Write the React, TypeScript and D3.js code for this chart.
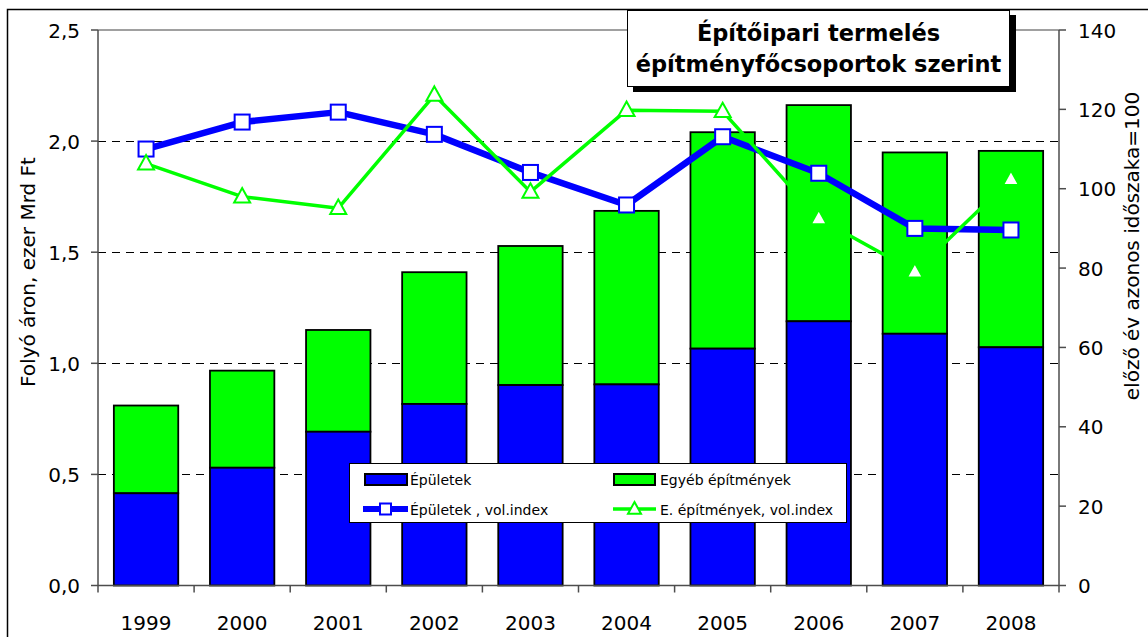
import React from "react";
import * as d3 from "d3";

const years = ["1999", "2000", "2001", "2002", "2003", "2004", "2005", "2006", "2007", "2008"];
const epuletek = [0.415, 0.53, 0.692, 0.817, 0.902, 0.905, 1.066, 1.189, 1.133, 1.072];
const osszesen = [0.81, 0.967, 1.15, 1.41, 1.528, 1.686, 2.04, 2.162, 1.949, 1.956];
const epuletekIndex = [110.0, 116.8, 119.3, 113.7, 104.1, 95.9, 113.1, 103.9, 90.0, 89.6];
const egyebIndex = [106.3, 98.0, 95.1, 123.6, 99.2, 119.8, 119.5, 92.5, 79.1, 102.4];
const leftTicks = [0, 0.5, 1.0, 1.5, 2.0, 2.5];
const rightTicks = [0, 20, 40, 60, 80, 100, 120, 140];
const gridTicks = [0.5, 1.0, 1.5, 2.0];
const titleLines = ["Építőipari termelés", "építményfőcsoportok szerint"];
const legendLabels = ["Épületek", "Egyéb építmények", "Épületek , vol.index", "E. építmények, vol.index"];

const BLUE = "#0000FF";
const GREEN = "#00FF00";
const FONT = "'DejaVu Sans', Verdana, sans-serif";

const L = 98, R = 1059, T = 30, B = 585.5;

export default function App() {
  const x = d3.scaleBand<string>().domain(years).range([L, R]).paddingInner(0.33).paddingOuter(0.165);
  const y = d3.scaleLinear().domain([0, 2.5]).range([B, T]);
  const y2 = d3.scaleLinear().domain([0, 140]).range([B, T]);
  const cx = (yr: string) => (x(yr) as number) + x.bandwidth() / 2;
  const lineBlue = d3.line<number>().x((_, i) => cx(years[i])).y((v) => y2(v));
  const step = x.step();
  const boundaries = d3.range(years.length + 1).map((i) => L + i * step);

  const tri = (px: number, py: number, w: number) => {
    const h = w * 0.9;
    return `M${px},${py - h * 0.6}L${px + w / 2},${py + h * 0.4}L${px - w / 2},${py + h * 0.4}Z`;
  };

  return (
    <svg width={1148} height={637} style={{ position: "absolute", left: 0, top: 0, background: "#fff" }} fontFamily={FONT}>
      <rect x={0} y={0} width={1148} height={637} fill="#fff" />
      <rect x={7.5} y={9.5} width={1160} height={660} fill="none" stroke="#000" strokeWidth={1.5} />

      {/* gridlines */}
      {gridTicks.map((t) => (
        <line key={t} x1={L} x2={R} y1={Math.round(y(t)) + 0.5} y2={Math.round(y(t)) + 0.5} stroke="#000" strokeWidth={1} strokeDasharray="8,6" />
      ))}
      <line x1={L} x2={R} y1={T} y2={T} stroke="#808080" strokeWidth={1.5} />

      {/* bars */}
      {years.map((yr, i) => (
        <g key={yr}>
          <rect x={x(yr)} y={y(osszesen[i])} width={x.bandwidth()} height={y(epuletek[i]) - y(osszesen[i])} fill={GREEN} stroke="#000" strokeWidth={1.8} />
          <rect x={x(yr)} y={y(epuletek[i])} width={x.bandwidth()} height={B - y(epuletek[i])} fill={BLUE} stroke="#000" strokeWidth={1.8} />
        </g>
      ))}

      {/* axes */}
      <line x1={L} x2={L} y1={T} y2={B} stroke="#4d4d4d" strokeWidth={1.5} />
      <line x1={R} x2={R} y1={T} y2={B} stroke="#4d4d4d" strokeWidth={1.5} />
      <line x1={L} x2={R} y1={B} y2={B} stroke="#4d4d4d" strokeWidth={1.5} />
      {leftTicks.map((t) => (
        <g key={t}>
          <line x1={L - 7} x2={L} y1={y(t)} y2={y(t)} stroke="#4d4d4d" strokeWidth={1.5} />
          <text x={80} y={y(t) + 7.5} fontSize={20} textAnchor="end" fill="#000">
            {d3.format(".1f")(t).replace(".", ",")}
          </text>
        </g>
      ))}
      {rightTicks.map((t) => (
        <g key={t}>
          <line x1={R} x2={R + 7} y1={y2(t)} y2={y2(t)} stroke="#4d4d4d" strokeWidth={1.5} />
          <text x={1078} y={y2(t) + 7.5} fontSize={20} textAnchor="start" fill="#000">
            {t}
          </text>
        </g>
      ))}
      {boundaries.map((bx, i) => (
        <line key={i} x1={bx} x2={bx} y1={B} y2={B + 7} stroke="#4d4d4d" strokeWidth={1.5} />
      ))}
      {years.map((yr) => (
        <text key={yr} x={cx(yr)} y={630} fontSize={20} textAnchor="middle" fill="#000">
          {yr}
        </text>
      ))}
      <text transform="translate(35,272) rotate(-90)" fontSize={20} textAnchor="middle" fill="#000">
        Folyó áron, ezer Mrd Ft
      </text>
      <text transform="translate(1139,246) rotate(-90)" fontSize={20} textAnchor="middle" fill="#000">
        előző év azonos időszaka=100
      </text>

      {/* lines */}
      <path d={lineBlue(epuletekIndex) || ""} fill="none" stroke={BLUE} strokeWidth={6.5} strokeLinejoin="round" />
      {epuletekIndex.map((v, i) => (
        <rect key={i} x={cx(years[i]) - 7.5} y={y2(v) - 7.5} width={15} height={15} fill="#fff" stroke={BLUE} strokeWidth={2} />
      ))}
      <path d={lineBlue(egyebIndex) || ""} fill="none" stroke={GREEN} strokeWidth={3.5} strokeLinejoin="round" />
      {egyebIndex.map((v, i) => (
        <path key={i} d={tri(cx(years[i]), y2(v), 16)} fill="#fff" stroke={GREEN} strokeWidth={2} />
      ))}

      {/* legend */}
      <rect x={349.5} y={463.5} width={497} height={59} fill="#fff" stroke="#000" strokeWidth={1} />
      <rect x={365} y={474} width={42} height={11} fill={BLUE} stroke="#000" strokeWidth={2} />
      <text x={410} y={485} fontSize={14} fill="#000">{legendLabels[0]}</text>
      <rect x={614} y={474} width={41} height={11} fill={GREEN} stroke="#000" strokeWidth={2} />
      <text x={660} y={485} fontSize={14} fill="#000">{legendLabels[1]}</text>
      <line x1={363} x2={408} y1={509} y2={509} stroke={BLUE} strokeWidth={6} />
      <rect x={380} y={503.5} width={11} height={11} fill="#fff" stroke={BLUE} strokeWidth={2} />
      <text x={410} y={515} fontSize={14} fill="#000">{legendLabels[2]}</text>
      <line x1={613} x2={656} y1={509} y2={509} stroke={GREEN} strokeWidth={3.5} />
      <path d={tri(634.5, 509, 13)} fill="#fff" stroke={GREEN} strokeWidth={2} />
      <text x={660} y={515} fontSize={14} fill="#000">{legendLabels[3]}</text>

      {/* title */}
      <rect x={633} y={15} width={383} height={77} fill="#000" />
      <rect x={627.5} y={10.5} width={382} height={76} fill="#fff" stroke="#000" strokeWidth={1} />
      {titleLines.map((t, i) => (
        <text key={i} x={818.5} y={40.5 + i * 31} fontSize={22.5} fontWeight="bold" textAnchor="middle" fill="#000">
          {t}
        </text>
      ))}
    </svg>
  );
}
